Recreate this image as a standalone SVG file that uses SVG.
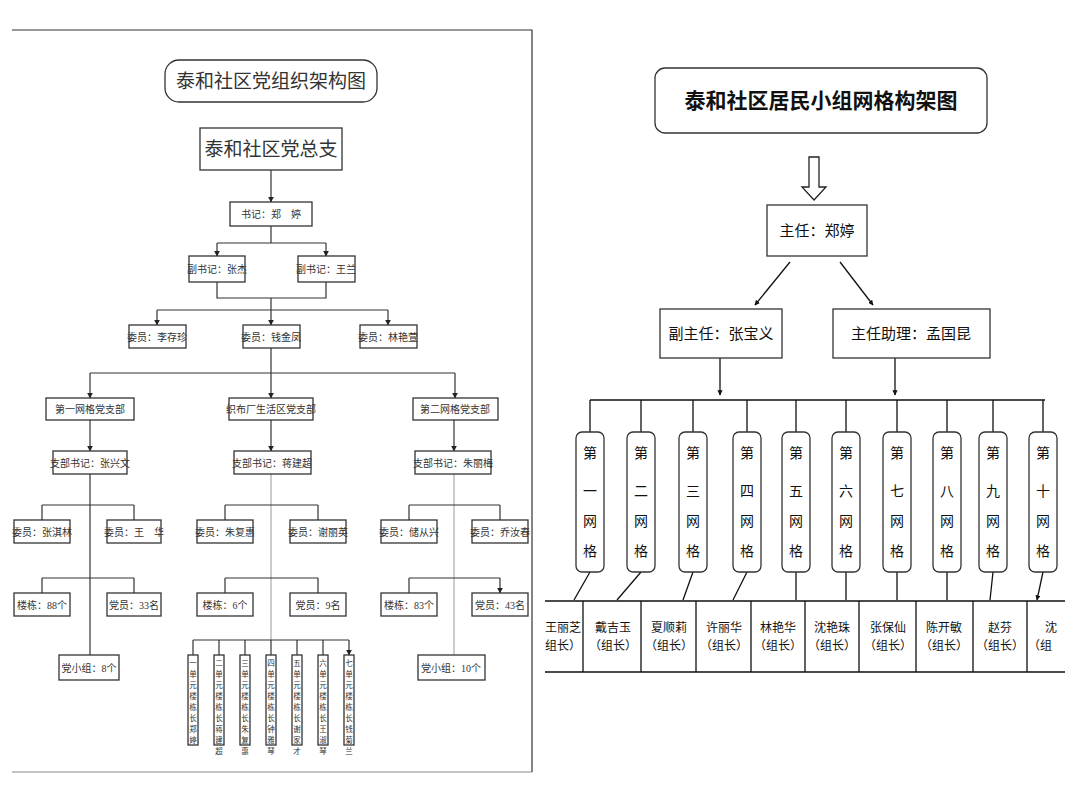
<svg xmlns="http://www.w3.org/2000/svg" width="1080" height="810" viewBox="0 0 1080 810">
<defs>
<marker id="a" viewBox="0 0 10 10" refX="9" refY="5" markerWidth="5" markerHeight="5" orient="auto"><path d="M0,0L10,5L0,10z" fill="#222"/></marker>
<marker id="b" viewBox="0 0 10 10" refX="9" refY="5" markerWidth="4" markerHeight="4" orient="auto"><path d="M0,0L10,5L0,10z" fill="#111"/></marker>
<clipPath id="cp"><rect x="545" y="600" width="520" height="75"/></clipPath>
</defs>
<style>
.b{fill:#fff;stroke:#333;stroke-width:1.3}
.t{font-family:"Liberation Serif","Noto Sans CJK SC",serif;fill:#333;text-anchor:middle}
.s{font-size:10px}
.r{font-family:"Noto Sans CJK SC",sans-serif;fill:#111;text-anchor:middle}
.l{fill:none;stroke:#333;stroke-width:1.2}
.m{fill:none;stroke:#111;stroke-width:1.3}
.g{fill:none;stroke:#aaa;stroke-width:1.2}
</style>
<rect width="1080" height="810" fill="#fff"/>
<path d="M12,30H532V772" class="l" stroke="#888"/>
<path d="M12,772H532" stroke="#888" stroke-width="1"/>
<g id="connectors">
<path class="l" marker-end="url(#a)" d="M271,170V202"/>
<path class="l" d="M271,226V243M217,243H326"/>
<path class="l" marker-end="url(#a)" d="M217,243V256"/>
<path class="l" marker-end="url(#a)" d="M326,243V256"/>
<path class="l" d="M217,282V298H326V282M271,298V310M157,310H388"/>
<path class="l" marker-end="url(#a)" d="M157,310V325"/>
<path class="l" marker-end="url(#a)" d="M271,310V325"/>
<path class="l" marker-end="url(#a)" d="M388,310V325"/>
<path class="l" d="M271,348V373M90,373H455"/>
<path class="l" marker-end="url(#a)" d="M90,373V398"/>
<path class="l" marker-end="url(#a)" d="M271,373V398"/>
<path class="l" marker-end="url(#a)" d="M455,373V398"/>
<path class="l" marker-end="url(#a)" d="M90,420V451"/>
<path class="l" marker-end="url(#a)" d="M271,420V451"/>
<path class="l" marker-end="url(#a)" d="M454,420V451"/>
<path class="l" d="M90,474V655"/>
<path class="g" d="M271,474V640"/>
<path class="g" d="M454,474V655"/>
<path class="l" d="M42,505H134M42,578H134M225,505H318M225,578H318M409,505H500M409,578H500"/>
<path class="l" marker-end="url(#a)" d="M42,505V520M134,505V520M42,578V593M134,578V593M225,505V520M318,505V520M225,578V593M318,578V593M409,505V520M500,505V520M409,578V593M500,578V593"/>
<path class="l" d="M193,640H349"/>
<path class="l" marker-end="url(#a)" d="M193,640V655M219,640V655M245,640V655M271,640V655M297,640V655M323,640V655M349,640V655"/>
<path d="M809,157H819V187H826L814,200L802,187H809Z" fill="#fff" stroke="#222" stroke-width="1.3"/>
<path class="m" marker-end="url(#b)" d="M790,262L755,305"/>
<path class="m" marker-end="url(#b)" d="M840,262L873,305"/>
<path class="m" marker-end="url(#b)" d="M720,358V395"/>
<path class="m" marker-end="url(#b)" d="M895,358V395"/>
<path class="m" d="M590,400H1045M590,400V432M641,400V432M693,400V432M747,400V432M796,400V432M846,400V432M897,400V432M947,400V432M993,400V432M1043,400V432"/>
<path class="m" marker-end="url(#b)" d="M590,572L574,600M641,572L617,600M693,572L683,600M747,572L733,600M796,572V600M846,572V600M897,572V600M947,572V600M993,572L990,600M1043,572L1037,600"/>
<path class="m" d="M545,601H1065M545,672H1065M583,601V672M641,601V672M696,601V672M751,601V672M805,601V672M859,601V672M916,601V672M973,601V672M1027,601V672"/>
</g>
<g id="left-title"><rect x="165" y="60" width="212" height="42" rx="14" class="b"/><text class="t" x="271" y="88" font-size="19">泰和社区党组织架构图</text></g>
<g id="zongzhi"><rect x="200" y="128" width="142" height="42" class="b"/><text class="t" x="271" y="156" font-size="19">泰和社区党总支</text></g>
<g id="shuji"><rect x="230" y="202" width="82" height="24" class="b"/><text class="t s" x="271" y="218">书记：郑　婷</text></g>
<g id="fu1"><rect x="189" y="256" width="56" height="26" class="b"/><text class="t s" x="217" y="273">副书记：张杰</text></g>
<g id="fu2"><rect x="298" y="256" width="57" height="26" class="b"/><text class="t s" x="326" y="273">副书记：王兰</text></g>
<g id="w1"><rect x="129" y="325" width="57" height="23" class="b"/><text class="t s" x="157" y="341">委员：李存珍</text></g>
<g id="w2"><rect x="243" y="325" width="57" height="23" class="b"/><text class="t s" x="271" y="341">委员：钱金凤</text></g>
<g id="w3"><rect x="360" y="325" width="57" height="23" class="b"/><text class="t s" x="388" y="341">委员：林艳萱</text></g>
<g id="br1"><rect x="46" y="398" width="88" height="22" class="b"/><text class="t s" x="90" y="413">第一网格党支部</text></g>
<g id="br2"><rect x="229" y="398" width="84" height="22" class="b"/><text class="t s" x="271" y="413">织布厂生活区党支部</text></g>
<g id="br3"><rect x="413" y="398" width="85" height="22" class="b"/><text class="t s" x="455" y="413">第二网格党支部</text></g>
<g id="sj1"><rect x="53" y="451" width="74" height="23" class="b"/><text class="t s" x="90" y="467">支部书记：张兴文</text></g>
<g id="sj2"><rect x="234" y="451" width="77" height="23" class="b"/><text class="t s" x="272" y="467">支部书记：蒋建超</text></g>
<g id="sj3"><rect x="415" y="451" width="76" height="23" class="b"/><text class="t s" x="453" y="467">支部书记：朱丽梅</text></g>
<g id="c1"><rect x="14" y="520" width="56" height="23" class="b"/><text class="t s" x="42" y="536">委员：张淇林</text></g>
<g id="c2"><rect x="107" y="520" width="54" height="23" class="b"/><text class="t s" x="134" y="536">委员：王　华</text></g>
<g id="c3"><rect x="197" y="520" width="56" height="23" class="b"/><text class="t s" x="225" y="536">委员：朱复惠</text></g>
<g id="c4"><rect x="290" y="520" width="56" height="23" class="b"/><text class="t s" x="318" y="536">委员：谢丽英</text></g>
<g id="c5"><rect x="381" y="520" width="56" height="23" class="b"/><text class="t s" x="409" y="536">委员：储从兴</text></g>
<g id="c6"><rect x="472" y="520" width="56" height="23" class="b"/><text class="t s" x="500" y="536">委员：乔汝春</text></g>
<g id="d1"><rect x="14" y="593" width="56" height="23" class="b"/><text class="t s" x="42" y="609">楼栋：88个</text></g>
<g id="d2"><rect x="107" y="593" width="54" height="23" class="b"/><text class="t s" x="134" y="609">党员：33名</text></g>
<g id="d3"><rect x="197" y="593" width="56" height="23" class="b"/><text class="t s" x="225" y="609">楼栋：6个</text></g>
<g id="d4"><rect x="290" y="593" width="56" height="23" class="b"/><text class="t s" x="318" y="609">党员：9名</text></g>
<g id="d5"><rect x="381" y="593" width="56" height="23" class="b"/><text class="t s" x="409" y="609">楼栋：83个</text></g>
<g id="d6"><rect x="472" y="593" width="56" height="23" class="b"/><text class="t s" x="500" y="609">党员：43名</text></g>
<g id="x1"><rect x="59" y="655" width="60" height="25" class="b"/><text class="t s" x="89" y="672">党小组：8个</text></g>
<g id="x2"><rect x="418" y="655" width="67" height="25" class="b"/><text class="t s" x="451" y="672">党小组：10个</text></g>
<g id="units" font-size="7.5">
<g id="u1"><rect x="188" y="655" width="10" height="90" class="b"/><text class="t" font-size="7.5" x="193" y="666"><tspan x="193" dy="0">一</tspan><tspan x="193" dy="11">单</tspan><tspan x="193" dy="11">元</tspan><tspan x="193" dy="11">楼</tspan><tspan x="193" dy="11">栋</tspan><tspan x="193" dy="11">长</tspan><tspan x="193" dy="11">郑</tspan><tspan x="193" dy="11">婷</tspan></text></g>
<g id="u2"><rect x="214" y="655" width="10" height="90" class="b"/><text class="t" font-size="7.5" x="219" y="666"><tspan x="219" dy="0">二</tspan><tspan x="219" dy="11">单</tspan><tspan x="219" dy="11">元</tspan><tspan x="219" dy="11">楼</tspan><tspan x="219" dy="11">栋</tspan><tspan x="219" dy="11">长</tspan><tspan x="219" dy="11">蒋</tspan><tspan x="219" dy="11">建</tspan><tspan x="219" dy="11">超</tspan></text></g>
<g id="u3"><rect x="240" y="655" width="10" height="90" class="b"/><text class="t" font-size="7.5" x="245" y="666"><tspan x="245" dy="0">三</tspan><tspan x="245" dy="11">单</tspan><tspan x="245" dy="11">元</tspan><tspan x="245" dy="11">楼</tspan><tspan x="245" dy="11">栋</tspan><tspan x="245" dy="11">长</tspan><tspan x="245" dy="11">朱</tspan><tspan x="245" dy="11">复</tspan><tspan x="245" dy="11">惠</tspan></text></g>
<g id="u4"><rect x="266" y="655" width="10" height="90" class="b"/><text class="t" font-size="7.5" x="271" y="666"><tspan x="271" dy="0">四</tspan><tspan x="271" dy="11">单</tspan><tspan x="271" dy="11">元</tspan><tspan x="271" dy="11">楼</tspan><tspan x="271" dy="11">栋</tspan><tspan x="271" dy="11">长</tspan><tspan x="271" dy="11">钟</tspan><tspan x="271" dy="11">雅</tspan><tspan x="271" dy="11">琴</tspan></text></g>
<g id="u5"><rect x="292" y="655" width="10" height="90" class="b"/><text class="t" font-size="7.5" x="297" y="666"><tspan x="297" dy="0">五</tspan><tspan x="297" dy="11">单</tspan><tspan x="297" dy="11">元</tspan><tspan x="297" dy="11">楼</tspan><tspan x="297" dy="11">栋</tspan><tspan x="297" dy="11">长</tspan><tspan x="297" dy="11">谢</tspan><tspan x="297" dy="11">家</tspan><tspan x="297" dy="11">才</tspan></text></g>
<g id="u6"><rect x="318" y="655" width="10" height="90" class="b"/><text class="t" font-size="7.5" x="323" y="666"><tspan x="323" dy="0">六</tspan><tspan x="323" dy="11">单</tspan><tspan x="323" dy="11">元</tspan><tspan x="323" dy="11">楼</tspan><tspan x="323" dy="11">栋</tspan><tspan x="323" dy="11">长</tspan><tspan x="323" dy="11">王</tspan><tspan x="323" dy="11">淑</tspan><tspan x="323" dy="11">琴</tspan></text></g>
<g id="u7"><rect x="344" y="655" width="10" height="90" class="b"/><text class="t" font-size="7.5" x="349" y="666"><tspan x="349" dy="0">七</tspan><tspan x="349" dy="11">单</tspan><tspan x="349" dy="11">元</tspan><tspan x="349" dy="11">楼</tspan><tspan x="349" dy="11">栋</tspan><tspan x="349" dy="11">长</tspan><tspan x="349" dy="11">钱</tspan><tspan x="349" dy="11">菊</tspan><tspan x="349" dy="11">兰</tspan></text></g>
</g>
<g id="right-title"><rect x="655" y="68" width="332" height="65" rx="10" class="b" stroke="#222"/><text class="r" x="821" y="108" font-size="21" font-weight="bold">泰和社区居民小组网格构架图</text></g>
<g id="zhuren"><rect x="767" y="205" width="100" height="51" class="b" stroke="#222"/><text class="r" x="817" y="236" font-size="15">主任：郑婷</text></g>
<g id="fuzhuren"><rect x="660" y="309" width="122" height="49" class="b" stroke="#222"/><text class="r" x="721" y="339" font-size="15">副主任：张宝义</text></g>
<g id="zhuli"><rect x="833" y="309" width="157" height="49" class="b" stroke="#222"/><text class="r" x="911" y="339" font-size="15">主任助理：孟国昆</text></g>
<g id="grids" font-size="14">
<g id="g1"><rect x="576" y="432" width="28" height="140" rx="6" class="b" stroke="#222"/><text class="r" font-size="14"><tspan x="590" y="458">第</tspan><tspan x="590" y="496">一</tspan><tspan x="590" y="526">网</tspan><tspan x="590" y="556">格</tspan></text></g>
<g id="g2"><rect x="627" y="432" width="28" height="140" rx="6" class="b" stroke="#222"/><text class="r" font-size="14"><tspan x="641" y="458">第</tspan><tspan x="641" y="496">二</tspan><tspan x="641" y="526">网</tspan><tspan x="641" y="556">格</tspan></text></g>
<g id="g3"><rect x="679" y="432" width="28" height="140" rx="6" class="b" stroke="#222"/><text class="r" font-size="14"><tspan x="693" y="458">第</tspan><tspan x="693" y="496">三</tspan><tspan x="693" y="526">网</tspan><tspan x="693" y="556">格</tspan></text></g>
<g id="g4"><rect x="733" y="432" width="28" height="140" rx="6" class="b" stroke="#222"/><text class="r" font-size="14"><tspan x="747" y="458">第</tspan><tspan x="747" y="496">四</tspan><tspan x="747" y="526">网</tspan><tspan x="747" y="556">格</tspan></text></g>
<g id="g5"><rect x="782" y="432" width="28" height="140" rx="6" class="b" stroke="#222"/><text class="r" font-size="14"><tspan x="796" y="458">第</tspan><tspan x="796" y="496">五</tspan><tspan x="796" y="526">网</tspan><tspan x="796" y="556">格</tspan></text></g>
<g id="g6"><rect x="832" y="432" width="28" height="140" rx="6" class="b" stroke="#222"/><text class="r" font-size="14"><tspan x="846" y="458">第</tspan><tspan x="846" y="496">六</tspan><tspan x="846" y="526">网</tspan><tspan x="846" y="556">格</tspan></text></g>
<g id="g7"><rect x="883" y="432" width="28" height="140" rx="6" class="b" stroke="#222"/><text class="r" font-size="14"><tspan x="897" y="458">第</tspan><tspan x="897" y="496">七</tspan><tspan x="897" y="526">网</tspan><tspan x="897" y="556">格</tspan></text></g>
<g id="g8"><rect x="933" y="432" width="28" height="140" rx="6" class="b" stroke="#222"/><text class="r" font-size="14"><tspan x="947" y="458">第</tspan><tspan x="947" y="496">八</tspan><tspan x="947" y="526">网</tspan><tspan x="947" y="556">格</tspan></text></g>
<g id="g9"><rect x="979" y="432" width="28" height="140" rx="6" class="b" stroke="#222"/><text class="r" font-size="14"><tspan x="993" y="458">第</tspan><tspan x="993" y="496">九</tspan><tspan x="993" y="526">网</tspan><tspan x="993" y="556">格</tspan></text></g>
<g id="g10"><rect x="1029" y="432" width="28" height="140" rx="6" class="b" stroke="#222"/><text class="r" font-size="14"><tspan x="1043" y="458">第</tspan><tspan x="1043" y="496">十</tspan><tspan x="1043" y="526">网</tspan><tspan x="1043" y="556">格</tspan></text></g>
</g>
<g id="leaders" clip-path="url(#cp)" font-size="12">
<text class="r" font-size="12"><tspan x="563" y="632">王丽芝</tspan><tspan x="563" y="650">组长）</tspan></text>
<text class="r" font-size="12"><tspan x="613" y="632">戴吉玉</tspan><tspan x="613" y="650">（组长）</tspan></text>
<text class="r" font-size="12"><tspan x="669" y="632">夏顺莉</tspan><tspan x="669" y="650">（组长）</tspan></text>
<text class="r" font-size="12"><tspan x="724" y="632">许丽华</tspan><tspan x="724" y="650">（组长）</tspan></text>
<text class="r" font-size="12"><tspan x="778" y="632">林艳华</tspan><tspan x="778" y="650">（组长）</tspan></text>
<text class="r" font-size="12"><tspan x="832" y="632">沈艳珠</tspan><tspan x="832" y="650">（组长）</tspan></text>
<text class="r" font-size="12"><tspan x="888" y="632">张保仙</tspan><tspan x="888" y="650">（组长）</tspan></text>
<text class="r" font-size="12"><tspan x="944" y="632">陈开敏</tspan><tspan x="944" y="650">（组长）</tspan></text>
<text class="r" font-size="12"><tspan x="1000" y="632">赵芬</tspan><tspan x="1000" y="650">（组长）</tspan></text>
<text class="r" font-size="12" text-anchor="start"><tspan x="1051" y="632">沈</tspan><tspan x="1040" y="650">（组</tspan></text>
</g>
</svg>
